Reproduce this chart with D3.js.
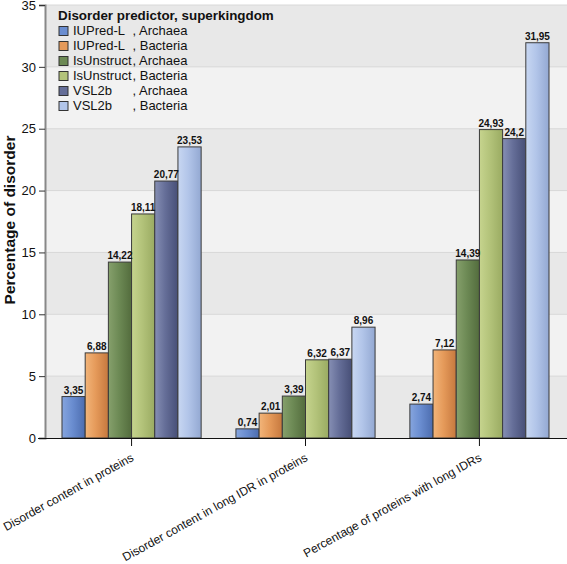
<!DOCTYPE html>
<html><head><meta charset="utf-8">
<script src="https://cdn.jsdelivr.net/npm/d3@7"></script>
<style>body{margin:0;background:#fff}svg{display:block}</style>
</head><body>
<svg id="chart" width="567" height="564"></svg>
<script>
const categories = ["Disorder content in proteins", "Disorder content in long IDR in proteins", "Percentage of proteins with long IDRs"];
const predictors = ["IUPred-L", "IUPred-L", "IsUnstruct", "IsUnstruct", "VSL2b", "VSL2b"];
const kingdoms = ["Archaea", "Bacteria", "Archaea", "Bacteria", "Archaea", "Bacteria"];
const iupredArchaea = [3.35, 0.74, 2.74];
const iupredBacteria = [6.88, 2.01, 7.12];
const isunstructArchaea = [14.22, 3.39, 14.39];
const isunstructBacteria = [18.11, 6.32, 24.93];
const vsl2bArchaea = [20.77, 6.37, 24.2];
const vsl2bBacteria = [23.53, 8.96, 31.95];
const yTicks = [0, 5, 10, 15, 20, 25, 30, 35];
const legendTitle = "Disorder predictor, superkingdom";
const yTitle = "Percentage of disorder";

const seriesValues = [iupredArchaea, iupredBacteria, isunstructArchaea, isunstructBacteria, vsl2bArchaea, vsl2bBacteria];
const colors = [
  ["#86a5de", "#6a8dd0", "#4c6cae"],
  ["#f2b57a", "#e59a5a", "#c6783e"],
  ["#86a06c", "#6d8a55", "#536c3d"],
  ["#c6d48e", "#b3c37a", "#9aab62"],
  ["#868fb4", "#656e98", "#474f77"],
  ["#c8d7f2", "#b2c5e9", "#93a8d2"]
];
const FONT = "Liberation Sans, Arial, sans-serif";

const svg = d3.select("#chart");
const defs = svg.append("defs");
colors.forEach((c, i) => {
  const g = defs.append("linearGradient").attr("id", "g" + i).attr("x1", "0").attr("x2", "1").attr("y1", "0").attr("y2", "0");
  g.append("stop").attr("offset", "0%").attr("stop-color", c[0]);
  g.append("stop").attr("offset", "45%").attr("stop-color", c[1]);
  g.append("stop").attr("offset", "100%").attr("stop-color", c[2]);
});

const plotLeft = 45, plotRight = 567;
const y = d3.scaleLinear().domain([0, 35]).range([438, 5]);
const x0 = d3.scaleBand().domain(categories).range([44.6, 566.4]).padding(0);
const x1 = d3.scaleBand().domain(d3.range(6)).range([0, x0.bandwidth()]).paddingInner(0).paddingOuter(0.75);

// background bands
const bands = d3.range(0, 35, 5);
svg.append("g").selectAll("rect").data(bands).join("rect")
  .attr("x", plotLeft).attr("width", plotRight - plotLeft)
  .attr("y", d => y(d + 5)).attr("height", d => y(d) - y(d + 5))
  .attr("fill", d => (d / 5) % 2 === 0 ? "#e8e8e8" : "#f2f2f2");
svg.append("g").selectAll("line").data(yTicks.slice(1)).join("line")
  .attr("x1", plotLeft).attr("x2", plotRight)
  .attr("y1", d => y(d)).attr("y2", d => y(d))
  .attr("stroke", "#d8d8d8").attr("stroke-width", 1);

// bars
const fmt = v => String(v).replace(".", ",");
const groups = svg.append("g").selectAll("g").data(categories).join("g")
  .attr("transform", d => `translate(${x0(d)},0)`);
groups.each(function(cat, ci) {
  const g = d3.select(this);
  const data = seriesValues.map((s, si) => ({si, v: s[ci]}));
  g.selectAll("rect").data(data).join("rect")
    .attr("x", d => x1(d.si)).attr("width", x1.bandwidth())
    .attr("y", d => y(d.v)).attr("height", d => y(0) - y(d.v))
    .attr("fill", d => `url(#g${d.si})`)
    .attr("stroke", "#3a3a3a").attr("stroke-width", 1);
  g.selectAll("text").data(data).join("text")
    .attr("x", d => x1(d.si) + x1.bandwidth() / 2).attr("y", d => y(d.v) - 3)
    .attr("text-anchor", "middle")
    .attr("font-family", FONT)
    .attr("font-size", 10).attr("font-weight", "bold").attr("fill", "#111")
    .text(d => fmt(d.v));
});

// y axis
const yAxis = svg.append("g").attr("transform", `translate(${plotLeft},0)`)
  .call(d3.axisLeft(y).tickValues(yTicks).tickSize(6).tickPadding(3));
yAxis.select(".domain").attr("stroke", "#888").attr("stroke-width", 2);
yAxis.selectAll(".tick line").attr("stroke", "#333");
yAxis.selectAll("text").attr("font-family", FONT).attr("font-size", 13).attr("fill", "#111");

// x axis
svg.append("line").attr("x1", 38).attr("x2", 567).attr("y1", 438.5).attr("y2", 438.5).attr("stroke", "#111");
const xAxis = svg.append("g").attr("transform", "translate(0,438)")
  .call(d3.axisBottom(x0).tickSize(8).tickSizeOuter(0));
xAxis.select(".domain").remove();
xAxis.selectAll(".tick line").attr("stroke", "#111");
xAxis.selectAll("text")
  .attr("font-family", FONT).attr("font-size", 12).attr("fill", "#111")
  .attr("text-anchor", "end").attr("dy", 0).attr("y", 0)
  .attr("transform", "translate(3,22) rotate(-29)");

// y title
svg.append("text").attr("transform", "translate(15,220) rotate(-90)")
  .attr("text-anchor", "middle")
  .attr("font-family", FONT).attr("font-size", 15.5).attr("font-weight", "bold")
  .attr("fill", "#111").text(yTitle);

// legend
const lg = svg.append("g");
lg.append("text").attr("x", 58).attr("y", 20)
  .attr("font-family", FONT).attr("font-size", 13.4).attr("font-weight", "bold")
  .attr("fill", "#111").text(legendTitle);
const items = lg.selectAll("g.item").data(predictors).join("g").attr("class", "item")
  .attr("transform", (d, i) => `translate(59,${35 + i * 15})`);
items.append("rect").attr("x", 0).attr("y", -8.5).attr("width", 9).attr("height", 9)
  .attr("fill", (d, i) => colors[i][1]).attr("stroke", "#333").attr("stroke-width", 1);
items.append("text").attr("x", 14).attr("y", 0)
  .attr("font-family", FONT).attr("font-size", 13).attr("fill", "#111")
  .text(d => d);
items.append("text").attr("x", 73.5).attr("y", 0)
  .attr("font-family", FONT).attr("font-size", 13).attr("fill", "#111")
  .text((d, i) => ", " + kingdoms[i]);
</script>
</body></html>
